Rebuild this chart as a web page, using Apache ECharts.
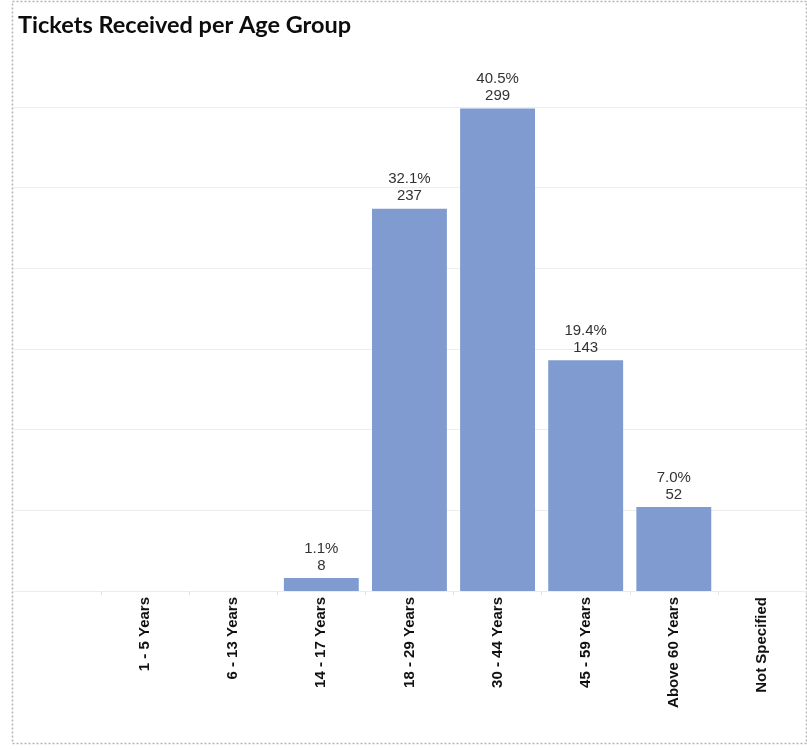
<!DOCTYPE html>
<html>
<head>
<meta charset="utf-8">
<script src="https://cdn.jsdelivr.net/npm/echarts@6/dist/echarts.min.js"></script>
<style>
  html, body { margin: 0; padding: 0; background: #fff; }
  #chart { width: 807px; height: 750px; }
</style>
</head>
<body>
<div id="chart"></div>
<script>
// Age groups along the x axis
const categories = ['1 - 5 Years', '6 - 13 Years', '14 - 17 Years', '18 - 29 Years',
                    '30 - 44 Years', '45 - 59 Years', 'Above 60 Years', 'Not Specified'];
// Number of tickets received in each age group
const tickets = [0, 0, 8, 237, 299, 143, 52, 0];
// Value axis range
const yMin = 0;
const yMax = 300;
const yStep = 50;

const total = tickets.reduce((a, b) => a + b, 0);

const chart = echarts.init(document.getElementById('chart'), null, { renderer: 'canvas' });

const plotTop = 107;
const plotBottom = 159;

chart.setOption({
  animation: false,
  backgroundColor: '#ffffff',
  title: {
    text: 'Tickets Received per Age Group',
    left: 13,
    top: 8,
    textStyle: {
      fontFamily: 'Lato, "Open Sans", sans-serif',
      fontWeight: 'bold',
      fontSize: 23.5,
      color: '#0d0d0d'
    }
  },
  graphic: [{
    type: 'rect',
    silent: true,
    shape: { x: 12.5, y: 1.5, width: 794, height: 742 },
    style: { fill: 'none', stroke: '#b4b4b4', lineWidth: 1.5, lineDash: [2, 2] }
  }],
  grid: [
    // full-width band that carries the horizontal gridlines
    { left: 13, right: 1, top: plotTop, bottom: plotBottom },
    // bar area
    { left: 101, right: 1, top: plotTop, bottom: plotBottom }
  ],
  xAxis: [
    { gridIndex: 0, type: 'category', data: [''], show: false },
    {
      gridIndex: 1,
      type: 'category',
      data: categories,
      axisLine: { show: false },
      axisTick: { show: true, alignWithLabel: false, length: 4, lineStyle: { color: '#e2e2e2' } },
      axisLabel: {
        rotate: 90,
        margin: 6,
        interval: 0,
        fontFamily: 'Arial, "Liberation Sans", sans-serif',
        fontSize: 15,
        fontWeight: 'bold',
        color: '#111'
      }
    }
  ],
  yAxis: [
    {
      gridIndex: 0,
      type: 'value',
      min: yMin, max: yMax, interval: yStep,
      axisLine: { show: false },
      axisTick: { show: false },
      axisLabel: { show: false },
      splitLine: { show: true, lineStyle: { color: '#ededed', width: 1 } }
    },
    {
      gridIndex: 1,
      type: 'value',
      min: yMin, max: yMax, interval: yStep,
      axisLine: { show: false },
      axisTick: { show: false },
      axisLabel: { show: false },
      splitLine: { show: false }
    }
  ],
  series: [{
    type: 'bar',
    xAxisIndex: 1,
    yAxisIndex: 1,
    data: tickets,
    barCategoryGap: '15%',
    itemStyle: { color: '#7f9bd0' },
    label: {
      show: true,
      position: 'top',
      distance: 4,
      fontFamily: 'Arial, "Liberation Sans", sans-serif',
      fontSize: 15,
      lineHeight: 17,
      color: '#333',
      formatter: p => p.value > 0
        ? (p.value / total * 100).toFixed(1) + '%\n' + p.value
        : ''
    }
  }]
});
</script>
</body>
</html>
